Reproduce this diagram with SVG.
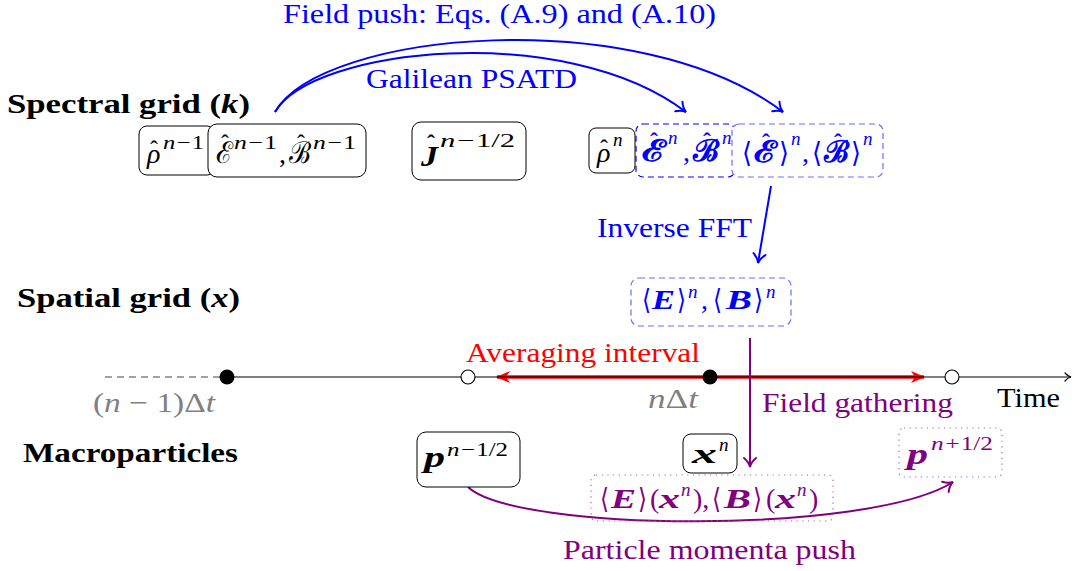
<svg xmlns="http://www.w3.org/2000/svg" width="1075" height="571" viewBox="0 0 1075 571">
<style>
.t{font-family:"Liberation Serif","DejaVu Serif",serif;font-size:28px}
.lb{font-family:"Liberation Serif","DejaVu Serif",serif;font-size:28px;font-weight:bold}
.m{font-family:"Liberation Serif","DejaVu Serif",serif;font-size:28px}
.i{font-style:italic}
.n{font-style:normal}
.b{font-weight:bold}
.nb{font-weight:normal}
.s{font-family:"Liberation Serif","DejaVu Serif",serif;font-size:19px;font-style:italic;font-weight:normal}
.h{font-family:"Liberation Serif","DejaVu Serif",serif;font-size:24px;font-style:normal}
.sc{font-family:"DejaVu Serif","Liberation Serif",serif;font-size:30px;font-style:normal}
.ang{font-family:"DejaVu Sans","DejaVu Serif",sans-serif;font-size:28px;font-style:normal;font-weight:normal}
.up{font-family:"Liberation Serif","DejaVu Serif",serif;font-size:28px;font-style:normal;font-weight:normal}
.box{fill:#fff;stroke:#000;stroke-width:1}
.dash{fill:#fff;stroke:#0000ff;stroke-width:1.2;stroke-dasharray:6,4}
.dashl{fill:#fff;stroke:#6b6bff;stroke-width:1.2;stroke-dasharray:6,4}
.dot{fill:none;stroke:#b060b0;stroke-width:1.2;stroke-dasharray:1.2,4.5}
.blue{fill:#0000ff}
.pur{fill:#800080}
.red{fill:#ff0000}
.gray{fill:#808080}
</style>
<defs>
<marker id="aB" markerUnits="userSpaceOnUse" markerWidth="20" markerHeight="20" viewBox="-12 -10 14 20" refX="0" refY="0" orient="auto">
<path d="M-9,-6 C-6,-2.5 -2.5,-0.6 0,0 C-2.5,0.6 -6,2.5 -9,6" fill="none" stroke="#0000ff" stroke-width="2" stroke-linecap="round"/>
</marker>
<marker id="aP" markerUnits="userSpaceOnUse" markerWidth="20" markerHeight="20" viewBox="-12 -10 14 20" refX="0" refY="0" orient="auto">
<path d="M-9,-6 C-6,-2.5 -2.5,-0.6 0,0 C-2.5,0.6 -6,2.5 -9,6" fill="none" stroke="#800080" stroke-width="2" stroke-linecap="round"/>
</marker>
<marker id="aK" markerUnits="userSpaceOnUse" markerWidth="16" markerHeight="16" viewBox="-10 -8 12 16" refX="0" refY="0" orient="auto">
<path d="M-6,-4 C-4,-1.6 -1.6,-0.4 0,0 C-1.6,0.4 -4,1.6 -6,4" fill="none" stroke="#000" stroke-width="1.2" stroke-linecap="round"/>
</marker>
<marker id="aR" markerUnits="userSpaceOnUse" markerWidth="24" markerHeight="20" viewBox="-16 -10 18 20" refX="0" refY="0" orient="auto-start-reverse">
<path d="M1,0 L-13,-6 L-9,0 L-13,6 Z" fill="#ff0000"/>
</marker>
</defs>

<g id="labels">
<text class="t blue" x="283" y="23" textLength="433" lengthAdjust="spacingAndGlyphs">Field push: Eqs. (A.9) and (A.10)</text>
<text class="t blue" x="366" y="88" textLength="211" lengthAdjust="spacingAndGlyphs">Galilean PSATD</text>
<text class="lb" x="7" y="113" textLength="243" lengthAdjust="spacingAndGlyphs">Spectral grid (<tspan class="i">k</tspan>)</text>
<text class="lb" x="17" y="307" textLength="223" lengthAdjust="spacingAndGlyphs">Spatial grid (<tspan class="i">x</tspan>)</text>
<text class="lb" x="23" y="462" textLength="215" lengthAdjust="spacingAndGlyphs">Macroparticles</text>
<text class="t blue" x="597" y="237" textLength="155" lengthAdjust="spacingAndGlyphs">Inverse FFT</text>
<text class="t red" x="466" y="362" textLength="234" lengthAdjust="spacingAndGlyphs">Averaging interval</text>
<text class="t gray" x="93" y="412" textLength="122" lengthAdjust="spacingAndGlyphs">(<tspan class="i">n</tspan> − 1)Δ<tspan class="i">t</tspan></text>
<text class="t gray" x="648" y="408" textLength="50" lengthAdjust="spacingAndGlyphs"><tspan class="i">n</tspan>Δ<tspan class="i">t</tspan></text>
<text class="t pur" x="762" y="412" textLength="191" lengthAdjust="spacingAndGlyphs">Field gathering</text>
<text class="t" x="997" y="407" textLength="63" lengthAdjust="spacingAndGlyphs">Time</text>
<text class="t pur" x="563" y="559" textLength="293" lengthAdjust="spacingAndGlyphs">Particle momenta push</text>
</g>

<g id="connectors" fill="none">
<line x1="105" y1="377" x2="227" y2="377" stroke="#444" stroke-width="1.2" stroke-dasharray="7,5"/>
<line x1="497" y1="377" x2="924" y2="377" stroke="#ff0000" stroke-width="3.6" marker-start="url(#aR)" marker-end="url(#aR)"/>
<line x1="227" y1="377" x2="1071" y2="377" stroke="#000" stroke-width="1.1" marker-end="url(#aK)"/>
<path d="M275,112 C322,30 640,3 783,112" stroke="#0000ff" stroke-width="2" marker-end="url(#aB)"/>
<path d="M275,112 C312,48 565,20 686,112" stroke="#0000ff" stroke-width="2" marker-end="url(#aB)"/>
<line x1="771" y1="186" x2="758" y2="263" stroke="#0000ff" stroke-width="2" marker-end="url(#aB)"/>
<line x1="750" y1="338" x2="750" y2="467" stroke="#800080" stroke-width="2" marker-end="url(#aP)"/>
<path d="M468,487 C515,532 870,535 953,482" stroke="#800080" stroke-width="2" marker-end="url(#aP)"/>
</g>

<g id="timepoints">
<circle cx="227" cy="377" r="7.5" fill="#000"/>
<circle cx="468" cy="377" r="7" fill="#fff" stroke="#000" stroke-width="1.1"/>
<circle cx="710" cy="377" r="7.5" fill="#000"/>
<circle cx="952" cy="377" r="7" fill="#fff" stroke="#000" stroke-width="1.1"/>
</g>

<g id="rho_nm1">
<rect class="box" x="139" y="126" width="76" height="49" rx="8"/>
<text class="m i"><tspan x="147" y="163">ρ</tspan><tspan class="h" x="150" y="157">ˆ</tspan><tspan class="s" x="163" y="149" textLength="41" lengthAdjust="spacingAndGlyphs">n−<tspan class="n">1</tspan></tspan></text>
</g>

<g id="EB_nm1">
<rect class="box" x="208" y="124" width="158" height="53" rx="9"/>
<text class="m"><tspan class="sc" x="216" y="163" textLength="17" lengthAdjust="spacingAndGlyphs">ℰ</tspan><tspan class="h" x="221" y="151">ˆ</tspan><tspan class="s" x="234" y="149" textLength="43" lengthAdjust="spacingAndGlyphs">n−<tspan class="n">1</tspan></tspan><tspan x="279" y="163">,</tspan><tspan class="sc" x="289" y="163" textLength="22" lengthAdjust="spacingAndGlyphs">ℬ</tspan><tspan class="h" x="297" y="151">ˆ</tspan><tspan class="s" x="313" y="149" textLength="43" lengthAdjust="spacingAndGlyphs">n−<tspan class="n">1</tspan></tspan></text>
</g>

<g id="J_nmh">
<rect class="box" x="412" y="122" width="114" height="58" rx="9"/>
<text class="m i b"><tspan x="421" y="166" font-size="30" textLength="17" lengthAdjust="spacingAndGlyphs">J</tspan><tspan class="h" x="427" y="151">ˆ</tspan><tspan class="s" x="440" y="147" textLength="75" lengthAdjust="spacingAndGlyphs">n−<tspan class="n">1/2</tspan></tspan></text>
</g>

<g id="rho_n">
<rect class="box" x="589" y="128" width="46" height="45" rx="7"/>
<text class="m i"><tspan x="597" y="162">ρ</tspan><tspan class="h" x="600" y="156">ˆ</tspan><tspan class="s" x="613" y="146">n</tspan></text>
</g>

<g id="EB_n">
<rect class="dash" x="636" y="124" width="99" height="53" rx="7"/>
<text class="m b blue"><tspan class="sc" x="642" y="161" textLength="24" lengthAdjust="spacingAndGlyphs">ℰ</tspan><tspan class="h" x="650" y="149">ˆ</tspan><tspan class="s" x="668" y="144">n</tspan><tspan class="nb" x="683" y="161">,</tspan><tspan class="sc" x="693" y="161" textLength="26" lengthAdjust="spacingAndGlyphs">ℬ</tspan><tspan class="h" x="703" y="149">ˆ</tspan><tspan class="s" x="722" y="144">n</tspan></text>
</g>

<g id="avgEB_hat">
<rect class="dashl" x="732" y="124" width="151" height="53" rx="7"/>
<text class="m b blue"><tspan class="ang" x="742" y="162" textLength="10" lengthAdjust="spacingAndGlyphs">⟨</tspan><tspan class="sc" x="754" y="162" textLength="23" lengthAdjust="spacingAndGlyphs">ℰ</tspan><tspan class="h" x="762" y="150">ˆ</tspan><tspan class="ang" x="779" y="162" textLength="10" lengthAdjust="spacingAndGlyphs">⟩</tspan><tspan class="s" x="791" y="145">n</tspan><tspan class="nb" x="802" y="162">,</tspan><tspan class="ang" x="812" y="162" textLength="10" lengthAdjust="spacingAndGlyphs">⟨</tspan><tspan class="sc" x="824" y="162" textLength="25" lengthAdjust="spacingAndGlyphs">ℬ</tspan><tspan class="h" x="834" y="150">ˆ</tspan><tspan class="ang" x="851" y="162" textLength="10" lengthAdjust="spacingAndGlyphs">⟩</tspan><tspan class="s" x="863" y="145">n</tspan></text>
</g>

<g id="avgEB_x">
<rect class="dashl" x="631" y="278" width="160" height="48" rx="8"/>
<text class="m i b blue"><tspan class="ang" x="642" y="309" textLength="9" lengthAdjust="spacingAndGlyphs">⟨</tspan><tspan x="652" y="309" textLength="23" lengthAdjust="spacingAndGlyphs">E</tspan><tspan class="ang" x="677" y="309" textLength="9" lengthAdjust="spacingAndGlyphs">⟩</tspan><tspan class="s" x="688" y="298">n</tspan><tspan class="up" x="701" y="309">,</tspan><tspan class="ang" x="713" y="309" textLength="9" lengthAdjust="spacingAndGlyphs">⟨</tspan><tspan x="726" y="309" textLength="26" lengthAdjust="spacingAndGlyphs">B</tspan><tspan class="ang" x="754" y="309" textLength="9" lengthAdjust="spacingAndGlyphs">⟩</tspan><tspan class="s" x="766" y="298">n</tspan></text>
</g>

<g id="p_nmh">
<rect class="box" x="417" y="432" width="103" height="55" rx="9"/>
<text class="m i b"><tspan x="424" y="467" font-size="30" textLength="21" lengthAdjust="spacingAndGlyphs">p</tspan><tspan class="s" x="447" y="456" textLength="61" lengthAdjust="spacingAndGlyphs">n−<tspan class="n">1/2</tspan></tspan></text>
</g>

<g id="x_n">
<rect class="box" x="683" y="434" width="54" height="39" rx="8"/>
<text class="m i b"><tspan x="692" y="463" textLength="25" lengthAdjust="spacingAndGlyphs">x</tspan><tspan class="s" x="719" y="451">n</tspan></text>
</g>

<g id="EB_gather">
<rect class="dot" x="591" y="475" width="242" height="46" rx="5"/>
<text class="m i b pur"><tspan class="ang" x="600" y="508" textLength="9" lengthAdjust="spacingAndGlyphs">⟨</tspan><tspan x="611" y="508" textLength="25" lengthAdjust="spacingAndGlyphs">E</tspan><tspan class="ang" x="638" y="508" textLength="9" lengthAdjust="spacingAndGlyphs">⟩</tspan><tspan class="up" x="650" y="508">(</tspan><tspan x="659" y="508" textLength="21" lengthAdjust="spacingAndGlyphs">x</tspan><tspan class="s" x="681" y="496">n</tspan><tspan class="up" x="693" y="508">),</tspan><tspan class="ang" x="712" y="508" textLength="9" lengthAdjust="spacingAndGlyphs">⟨</tspan><tspan x="724" y="508" textLength="27" lengthAdjust="spacingAndGlyphs">B</tspan><tspan class="ang" x="753" y="508" textLength="9" lengthAdjust="spacingAndGlyphs">⟩</tspan><tspan class="up" x="766" y="508">(</tspan><tspan x="775" y="508" textLength="21" lengthAdjust="spacingAndGlyphs">x</tspan><tspan class="s" x="797" y="496">n</tspan><tspan class="up" x="809" y="508">)</tspan></text>
</g>

<g id="p_nph">
<rect class="dot" x="899" y="428" width="103" height="49" rx="5"/>
<text class="m i b pur"><tspan x="907" y="464" font-size="30" textLength="21" lengthAdjust="spacingAndGlyphs">p</tspan><tspan class="s" x="931" y="450" textLength="62" lengthAdjust="spacingAndGlyphs">n+<tspan class="n">1/2</tspan></tspan></text>
</g>
</svg>
